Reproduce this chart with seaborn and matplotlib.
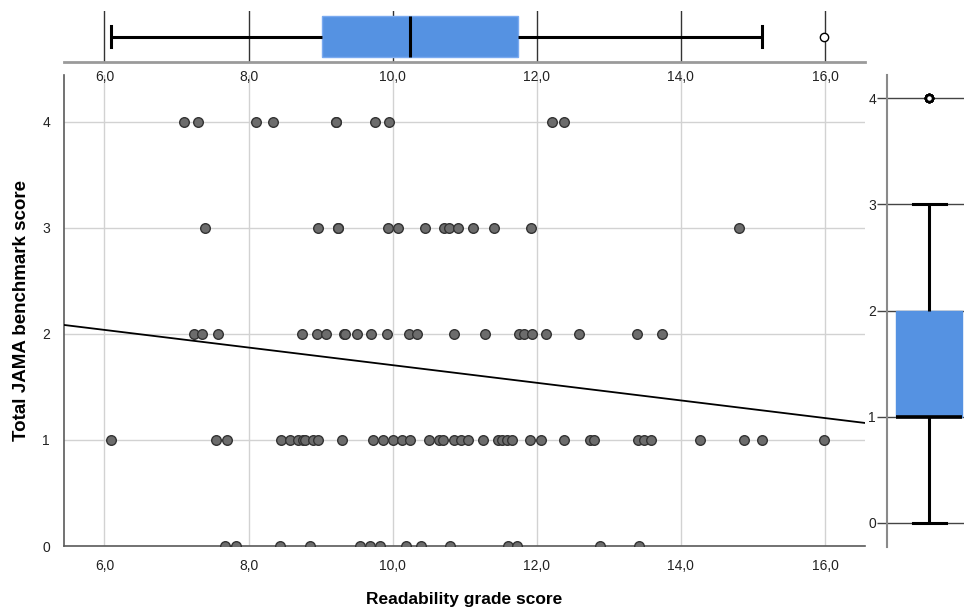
import numpy as np
import pandas as pd
import matplotlib
matplotlib.use("Agg")
import matplotlib.pyplot as plt
import seaborn as sns
from matplotlib.ticker import FuncFormatter

# ---- data ----
read_jama0 = [7.68, 7.82, 8.43, 8.85, 9.55, 9.69, 9.82, 10.19, 10.39, 10.80, 11.60, 11.72, 12.88, 13.42]
read_jama1 = [6.09, 7.55, 7.70, 8.45, 8.58, 8.68, 8.75, 8.79, 8.90, 8.97, 9.30, 9.73, 9.87, 10.00,
              10.13, 10.24, 10.50, 10.64, 10.70, 10.85, 10.95, 11.05, 11.26, 11.46, 11.52, 11.58,
              11.65, 11.90, 12.06, 12.38, 12.74, 12.79, 13.41, 13.49, 13.59, 14.26, 14.88, 15.12, 15.99]
read_jama2 = [7.25, 7.35, 7.57, 8.74, 8.95, 9.08, 9.32, 9.34, 9.50, 9.70, 9.92, 10.23, 10.34, 10.85,
              11.28, 11.76, 11.82, 11.93, 12.13, 12.58, 13.39, 13.74]
read_jama3 = [7.39, 8.96, 9.24, 9.24, 9.93, 10.08, 10.45, 10.71, 10.78, 10.90, 11.12, 11.41, 11.92, 14.80]
read_jama4 = [7.10, 7.30, 8.11, 8.34, 9.21, 9.21, 9.76, 9.95, 12.21, 12.38]
jama_levels = [0, 1, 2, 3, 4]
x_ticks = [6, 8, 10, 12, 14, 16]
y_ticks = [0, 1, 2, 3, 4]
x_label = "Readability grade score"
y_label = "Total JAMA benchmark score"

groups = [read_jama0, read_jama1, read_jama2, read_jama3, read_jama4]
df = pd.DataFrame({
    "readability": np.concatenate(groups),
    "jama": np.concatenate([[lvl] * len(g) for lvl, g in zip(jama_levels, groups)]).astype(float),
})

BOX_BLUE = "#5592E2"
W, H = 964, 611
fig = plt.figure(figsize=(W / 100, H / 100), dpi=100)
plt.rcParams["font.family"] = ["Liberation Sans", "DejaVu Sans"]

def rect(x0, y0, x1, y1):
    return [x0 / W, 1 - y1 / H, (x1 - x0) / W, (y1 - y0) / H]

ax = fig.add_axes(rect(64, 75, 865, 546))
ax_top = fig.add_axes(rect(64, 11, 865, 62))
ax_right = fig.add_axes(rect(887, 75, 964, 547))

comma = FuncFormatter(lambda v, p: f"{v:.1f}".replace(".", ","))

# ---- main scatter ----
xlim = (5.439, 16.555)
ax.set_xlim(*xlim)
ax.set_ylim(0, 4.443)
ax.set_axisbelow(True)
ax.grid(True, color="#d2d2d2", lw=1.0)
sns.scatterplot(data=df, x="readability", y="jama", ax=ax, s=48, color="#6c6c6c",
                edgecolor="#333333", linewidth=1.0, zorder=3)
sns.regplot(data=df, x="readability", y="jama", ax=ax, scatter=False, ci=None,
            truncate=False, line_kws=dict(color="black", lw=1.3, zorder=4))
ax.set_xlim(*xlim)
ax.set_ylim(0, 4.443)
ax.set_xticks(x_ticks)
ax.set_yticks(y_ticks)
ax.xaxis.set_major_formatter(comma)
ax.tick_params(axis="both", length=0, labelsize=10, colors="#222222")
ax.tick_params(axis="x", pad=9)
ax.tick_params(axis="y", pad=10)
for s in ["top", "right"]:
    ax.spines[s].set_visible(False)
for s in ["left", "bottom"]:
    ax.spines[s].set_color("#5a5a5a")
    ax.spines[s].set_linewidth(1.2)
ax.set_xlabel(x_label, fontsize=12.5, fontweight="bold")
ax.set_ylabel(y_label, fontsize=13.5, fontweight="bold")
ax.xaxis.set_label_coords(0.5, -0.097)
ax.yaxis.set_label_coords(-0.043, 0.5)

# ---- top boxplot ----
sns.boxplot(x=df["readability"], ax=ax_top, color=BOX_BLUE, saturation=1, width=0.8, whis=1.5,
            linewidth=2.2, linecolor="black",
            boxprops=dict(edgecolor="#7aaaf0", linewidth=1.0),
            flierprops=dict(marker="o", markerfacecolor="white", markeredgecolor="black",
                            markersize=6, markeredgewidth=1.0))
ax_top.set_xlim(*xlim)
ax_top.set_ylim(0.5, -0.5)
ax_top.set_xticks(x_ticks)
ax_top.xaxis.set_major_formatter(comma)
ax_top.set_yticks([])
ax_top.set_xlabel("")
ax_top.set_ylabel("")
ax_top.set_axisbelow(True)
ax_top.grid(True, axis="x", color="#333333", lw=1.0)
ax_top.tick_params(axis="x", length=0, labelsize=10, pad=6, colors="#222222")
for s in ["top", "left", "right"]:
    ax_top.spines[s].set_visible(False)
ax_top.spines["bottom"].set_color("#9a9a9a")
ax_top.spines["bottom"].set_linewidth(2.0)

# ---- right boxplot ----
sns.boxplot(y=df["jama"], ax=ax_right, color=BOX_BLUE, saturation=1, width=0.8, whis=1.5,
            linewidth=2.2, linecolor="black",
            boxprops=dict(edgecolor=BOX_BLUE, linewidth=1.0),
            medianprops=dict(color="black", linewidth=2.6),
            flierprops=dict(marker="o", markerfacecolor="white", markeredgecolor="black",
                            markersize=5, markeredgewidth=1.8))
ax_right.set_xlim(-0.509, 0.424)
ax_right.set_ylim(-0.229, 4.22)
ax_right.set_yticks(y_ticks)
ax_right.set_xticks([])
ax_right.set_xlabel("")
ax_right.set_ylabel("")
ax_right.set_axisbelow(True)
ax_right.grid(True, axis="y", color="#444444", lw=1.0)
ax_right.tick_params(axis="y", length=7, width=1.0, color="#444444", labelsize=10,
                     pad=1, colors="#222222")
for s in ["top", "bottom", "right"]:
    ax_right.spines[s].set_visible(False)
ax_right.spines["left"].set_color("#8a8a8a")
ax_right.spines["left"].set_linewidth(1.5)

fig.savefig("out.png", dpi=100)
